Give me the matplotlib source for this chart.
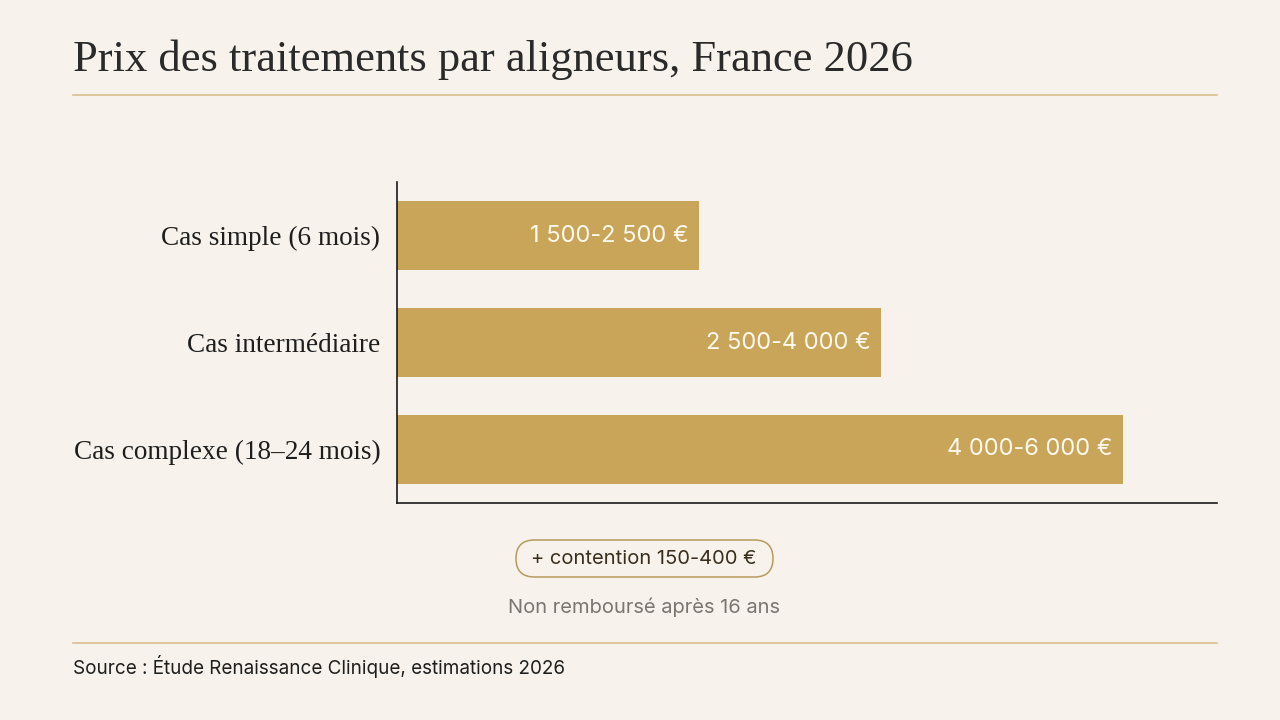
import matplotlib.pyplot as plt
from matplotlib.patches import FancyBboxPatch
from matplotlib.transforms import IdentityTransform

# données
categories = ['Cas simple (6 mois)', 'Cas intermédiaire', 'Cas complexe (18–24 mois)']
prix_min = [1500, 2500, 4000]
prix_max = [2500, 4000, 6000]
etiquettes = ['1 500-2 500 €', '2 500-4 000 €', '4 000-6 000 €']

titre = 'Prix des traitements par aligneurs, France 2026'
note_pill = '+ contention 150-400 €'
note = 'Non remboursé après 16 ans'
source = 'Source : Étude Renaissance Clinique, estimations 2026'

BG = '#F7F3EC'
GOLD = '#C9A55A'
RULE = '#D8C08E'
SERIF = ['Liberation Serif', 'DejaVu Serif']
SANS = ['Inter', 'DejaVu Sans']


def main():
    fig = plt.figure(figsize=(12.8, 7.2), dpi=100, facecolor=BG)
    ax = fig.add_axes([0.3102, 0.3014, 0.6406, 0.4458], facecolor=BG)

    y = range(len(categories))
    ax.barh(y, prix_max, height=0.645, color=GOLD)
    for i, (v, lab) in enumerate(zip(prix_max, etiquettes)):
        ax.annotate(lab, (v, i), xytext=(-7.5, 0), textcoords='offset points',
                    ha='right', va='center', color='#FFF9EE',
                    fontsize=17, family=SANS)

    ax.set_xlim(0, 6780)
    ax.set_ylim(2.5, -0.5)
    ax.set_yticks(list(y))
    ax.set_yticklabels(categories, family=SERIF, fontsize=19.6, color='#1e1e1e')
    ax.tick_params(axis='y', length=0, pad=12)
    ax.set_xticks([])
    for s in ['top', 'right']:
        ax.spines[s].set_visible(False)
    for s in ['left', 'bottom']:
        ax.spines[s].set_color('#1a1a1a')
        ax.spines[s].set_linewidth(1.2)

    # titre et filets
    fig.text(73 / 1280, 1 - 60 / 720, titre, family=SERIF, fontsize=32,
             color='#2a2a2a', va='center', ha='left')
    fig.add_artist(plt.Line2D([73 / 1280, 1217 / 1280], [1 - 95 / 720] * 2,
                              color=RULE, lw=1.2))
    fig.add_artist(plt.Line2D([73 / 1280, 1217 / 1280], [1 - 643 / 720] * 2,
                              color=RULE, lw=1.2))

    # pastille (coordonnées en pixels)
    pill = FancyBboxPatch((516, 720 - 577), 257, 37,
                          boxstyle='round,pad=0,rounding_size=18.5',
                          transform=IdentityTransform(), facecolor='none',
                          edgecolor='#B89A5C', lw=1.1)
    fig.add_artist(pill)
    fig.text(644 / 1280, 1 - 559 / 720, note_pill, family=SANS, fontsize=14.5,
             color='#3A2E1C', ha='center', va='center')
    fig.text(644 / 1280, 1 - 607 / 720, note, family=SANS, fontsize=14.5,
             color='#7B766E', ha='center', va='center')
    fig.text(73 / 1280, 1 - 667 / 720, source, family=SANS, fontsize=13.6,
             color='#1e1e1e', ha='left', va='center')

    fig.savefig('out.png', dpi=100, facecolor=BG)


if __name__ == '__main__':
    main()
